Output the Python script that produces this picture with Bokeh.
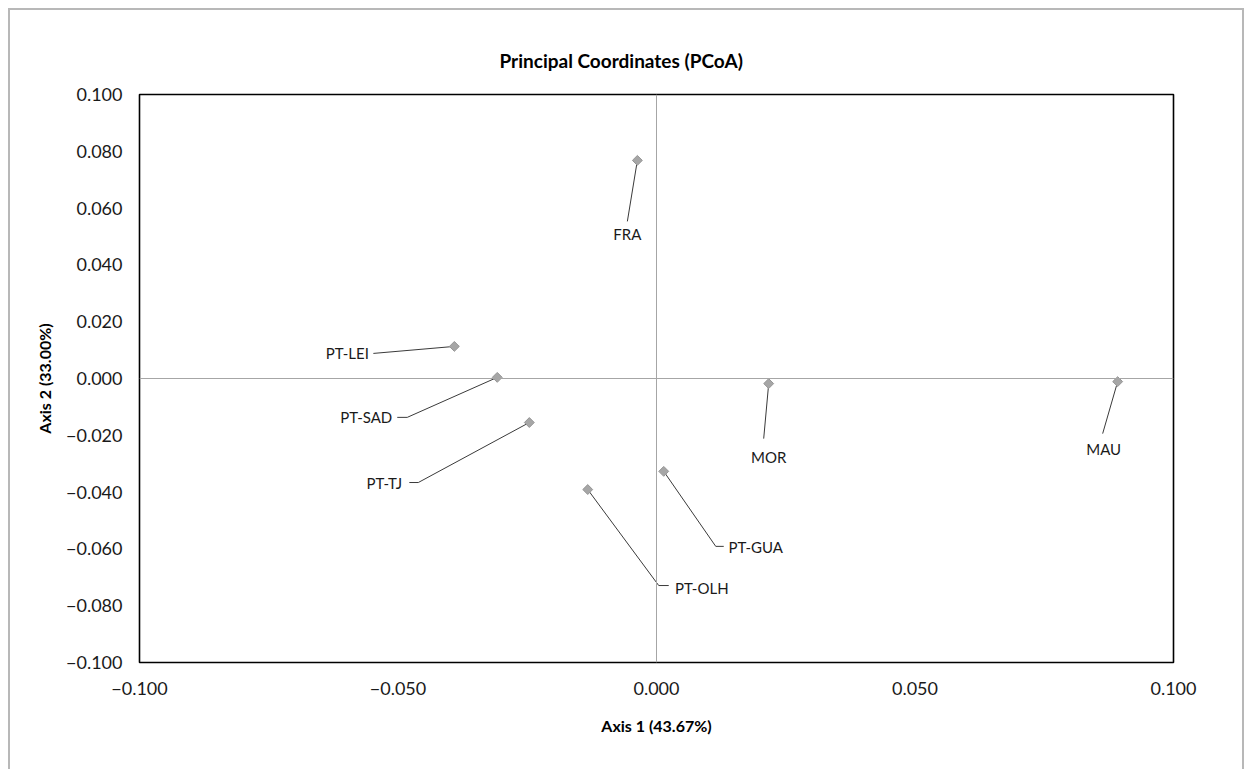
import math
from bokeh.plotting import figure
from bokeh.models import (ColumnDataSource, Span, CustomJSTickFormatter,
                          FixedTicker, Range1d)
from bokeh.core.properties import value
from bokeh.embed import file_html
from bokeh.resources import INLINE

# ---------------- data ----------------
populations = ["FRA", "PT-LEI", "PT-SAD", "PT-TJ", "PT-OLH", "PT-GUA", "MOR", "MAU"]
axis1 = [-0.0037, -0.0391, -0.0308, -0.0246, -0.0133, 0.0014, 0.0217, 0.0892]
axis2 = [0.0768, 0.0113, 0.0004, -0.0155, -0.0391, -0.0327, -0.0018, -0.0011]
x_tick_values = [-0.100, -0.050, 0.000, 0.050, 0.100]
y_tick_values = [-0.100, -0.080, -0.060, -0.040, -0.020, 0.000,
                 0.020, 0.040, 0.060, 0.080, 0.100]
axis1_label = "Axis 1 (43.67%)"
axis2_label = "Axis 2 (33.00%)"
chart_title = "Principal Coordinates (PCoA)"

# ---------------- layout (pixels) ----------------
W, H = 1232, 759
MB_L, MB_R, MB_T, MB_B = 129, 69, 84, 107
FRAME_W = W - MB_L - MB_R
FRAME_H = H - MB_T - MB_B
X_MIN, X_MAX = -0.1, 0.1
Y_MIN, Y_MAX = -0.1, 0.1
PX_X = FRAME_W / (X_MAX - X_MIN)
PX_Y = FRAME_H / (Y_MAX - Y_MIN)

# label centre offset from marker (px, right / down)
label_dx = [-10, -107, -131, -145, 114, 92, 0, -14]
label_dy = [74, 7, 40, 60, 98, 76, 73, 67]
# leader line path, offsets from marker (px, right / down)
leader_paths = [
    [(-10, 61)],
    [(-81, 7)],
    [(-90, 40), (-100, 40)],
    [(-111, 60), (-120, 60)],
    [(71, 96), (81, 96)],
    [(52, 75), (60, 75)],
    [(-5, 55)],
    [(-15, 52)],
]

FONT = "Lato"

p = figure(width=W, height=H, output_backend="svg", toolbar_location=None,
           x_range=Range1d(X_MIN, X_MAX), y_range=Range1d(Y_MIN, Y_MAX),
           min_border_left=MB_L, min_border_right=MB_R,
           min_border_top=MB_T, min_border_bottom=MB_B,
           background_fill_color="white", border_fill_color="white",
           title=chart_title)
p.margin = (10, 0, 0, 10)
p.styles = {"outline": "2px solid #b8b8b8"}

p.grid.visible = False
p.outline_line_color = "black"
p.outline_line_width = 1.6

p.title.align = "left"
p.title.offset = 360
p.title.standoff = 45
p.title.text_font = FONT
p.title.text_font_size = "19px"
p.title.text_font_style = "bold"
p.title.text_color = "#000000"

fmt = CustomJSTickFormatter(code="""
    const s = Math.abs(tick).toFixed(3);
    return (tick < -1e-9 ? "\u2212" : "") + s;
""")
for ax, ticks, lab in ((p.xaxis[0], x_tick_values, axis1_label),
                       (p.yaxis[0], y_tick_values, axis2_label)):
    ax.ticker = FixedTicker(ticks=ticks)
    ax.formatter = fmt
    ax.axis_line_color = None
    ax.major_tick_line_color = None
    ax.minor_tick_line_color = None
    ax.major_tick_out = 0
    ax.major_tick_in = 0
    ax.major_label_text_font = FONT
    ax.major_label_text_font_size = "18px"
    ax.major_label_text_color = "#1a1a1a"
    ax.axis_label = lab
    ax.axis_label_text_font = FONT
    ax.axis_label_text_font_size = "16px"
    ax.axis_label_text_font_style = "bold"
    ax.axis_label_text_color = "#000000"
p.xaxis[0].major_label_standoff = 19
p.yaxis[0].major_label_standoff = 17
p.xaxis[0].axis_label_standoff = 18
p.yaxis[0].axis_label_standoff = 9

# zero lines
p.add_layout(Span(location=0, dimension="height", line_color="#a6a6a6", line_width=1))
p.add_layout(Span(location=0, dimension="width", line_color="#a6a6a6", line_width=1))

# leader lines
xs, ys = [], []
for x0, y0, path in zip(axis1, axis2, leader_paths):
    xs.append([x0] + [x0 + dx / PX_X for dx, dy in path])
    ys.append([y0] + [y0 - dy / PX_Y for dx, dy in path])
p.multi_line(xs=xs, ys=ys, line_color="#3a3a3a", line_width=1)

src = ColumnDataSource(dict(x=axis1, y=axis2, name=populations,
                            dx=label_dx, dy=label_dy))
p.scatter("x", "y", source=src, marker="square", size=7, angle=math.pi / 4,
          fill_color="#a6a6a6", line_color="#969696", line_width=1)
p.text("x", "y", text="name", source=src, x_offset="dx", y_offset="dy",
       text_align="center", text_baseline="middle", text_font=value(FONT),
       text_font_size="15px", text_color="#1a1a1a")

open("out.html", "w").write(file_html(p, INLINE))
